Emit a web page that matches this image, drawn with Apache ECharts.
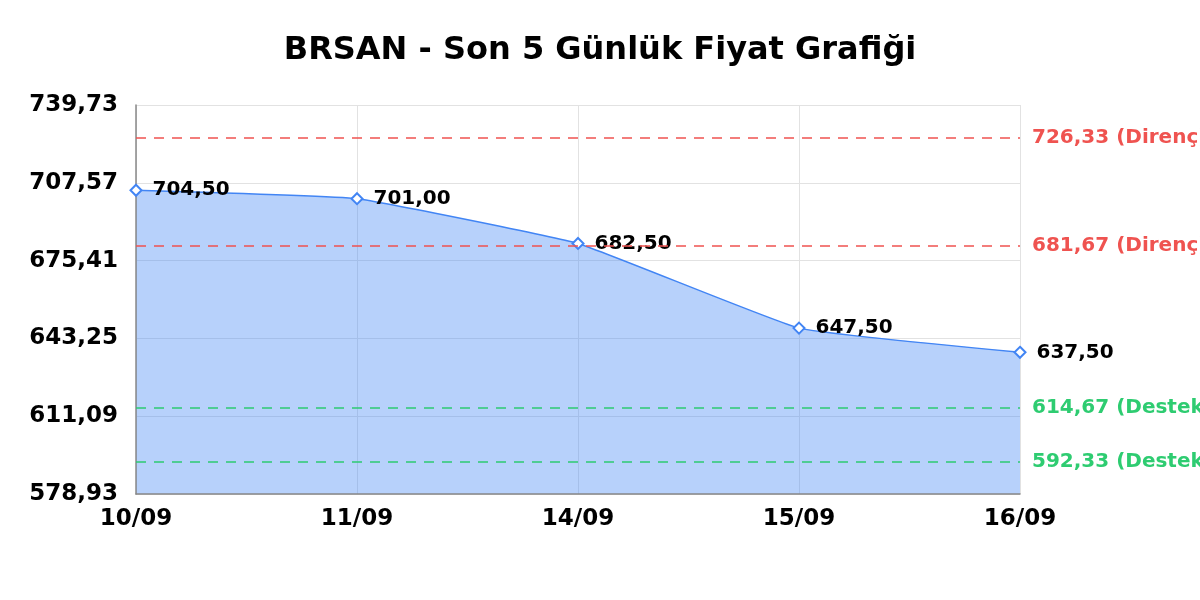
<!DOCTYPE html>
<html>
<head>
<meta charset="utf-8">
<script src="https://cdn.jsdelivr.net/npm/echarts@6/dist/echarts.min.js"></script>
<style>
html, body { margin: 0; padding: 0; background: #fff; }
#chart { width: 1200px; height: 600px; }
</style>
</head>
<body>
<div id="chart"></div>
<script>
var dates = ['10/09', '11/09', '14/09', '15/09', '16/09'];
var prices = [704.50, 701.00, 682.50, 647.50, 637.50];
var resistance = [726.33, 681.67];
var support = [614.67, 592.33];
var yMin = 578.93;
var yMax = 739.73;
var yStep = 32.16;

function fmt(v) {
    return v.toFixed(2).replace('.', ',');
}

var chart = echarts.init(document.getElementById('chart'));

var levelLines = [];
resistance.forEach(function (v) {
    levelLines.push({
        yAxis: v,
        lineStyle: { color: '#ef5350', type: [10, 8], width: 1.5 },
        label: { color: '#ef5350', formatter: fmt(v) + ' (Direnç)' }
    });
});
support.forEach(function (v) {
    levelLines.push({
        yAxis: v,
        lineStyle: { color: '#2ecc71', type: [10, 8], width: 1.5 },
        label: { color: '#2ecc71', formatter: fmt(v) + ' (Destek)' }
    });
});

var option = {
    animation: false,
    title: {
        text: 'BRSAN - Son 5 Günlük Fiyat Grafiği',
        left: 'center',
        top: 30,
        textStyle: {
            fontFamily: 'DejaVu Sans',
            fontWeight: 'bold',
            fontSize: 32,
            color: '#000'
        }
    },
    grid: {
        left: 136,
        right: 180,
        top: 105,
        bottom: 106
    },
    xAxis: {
        type: 'category',
        data: dates,
        boundaryGap: false,
        z: 3,
        axisLine: { lineStyle: { color: '#888', width: 1.5 } },
        axisTick: { show: false },
        axisLabel: {
            fontFamily: 'DejaVu Sans',
            fontWeight: 'bold',
            fontSize: 23,
            color: '#000',
            margin: 14,
            showMinLabel: true,
            showMaxLabel: true
        },
        splitLine: { show: true, lineStyle: { color: '#e2e2e2' } }
    },
    yAxis: {
        type: 'value',
        min: yMin,
        max: yMax,
        interval: yStep,
        z: 3,
        axisLine: { show: true, lineStyle: { color: '#888', width: 1.5 } },
        axisTick: { show: false },
        axisLabel: {
            fontFamily: 'DejaVu Sans',
            fontWeight: 'bold',
            fontSize: 23,
            color: '#000',
            margin: 18,
            formatter: function (v) { return fmt(v); }
        },
        splitLine: { show: true, lineStyle: { color: '#e2e2e2' } }
    },
    series: [{
        type: 'line',
        data: prices,
        smooth: 0.1,
        symbol: 'diamond',
        symbolSize: 11,
        lineStyle: { color: '#4285f4', width: 1.5 },
        itemStyle: { color: '#fff', borderColor: '#4285f4', borderWidth: 2 },
        areaStyle: { color: '#4285f4', opacity: 0.38, origin: 'start' },
        label: {
            show: true,
            position: 'right',
            distance: 10,
            fontFamily: 'DejaVu Sans',
            fontWeight: 'bold',
            fontSize: 20,
            color: '#000',
            formatter: function (p) { return fmt(p.value); }
        },
        markLine: {
            silent: true,
            symbol: 'none',
            label: {
                position: 'end',
                distance: 12,
                fontFamily: 'DejaVu Sans',
                fontWeight: 'bold',
                fontSize: 20
            },
            data: levelLines
        }
    }]
};

chart.setOption(option);

window.onresize = function () {
    chart.resize();
};
</script>
</body>
</html>
